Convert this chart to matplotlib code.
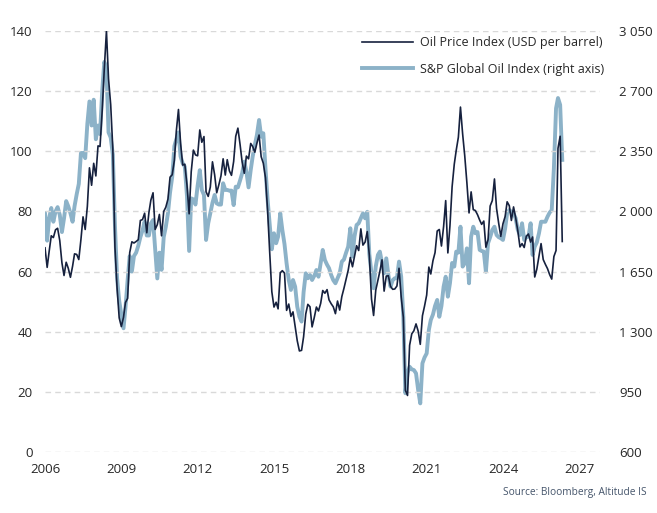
import matplotlib
matplotlib.use("Agg")
import matplotlib.pyplot as plt
import matplotlib.dates as mdates
from matplotlib.ticker import FuncFormatter
import pandas as pd

oil_price = [
    67.9, 61.4, 66.6, 71.9, 71.3, 73.9, 74.4, 70.3, 62.9, 58.7, 63.1, 61.1,   # 2006
    58.1, 61.8, 65.9, 65.7, 64.0, 70.7, 78.2, 74.0, 81.7, 94.5, 88.7, 96.0,   # 2007
    91.8, 101.8, 101.6, 113.5, 127.4, 140.0, 124.1, 115.5, 100.6, 68.1, 54.4, 44.6,
    41.7, 44.8, 49.7, 51.1, 66.3, 69.9, 69.5, 70.0, 70.6, 77.0, 77.3, 79.4,
    72.9, 79.7, 83.8, 86.2, 74.0, 75.6, 79.0, 71.9, 80.0, 81.4, 84.1, 91.4,
    92.2, 97.0, 106.7, 113.9, 102.7, 95.4, 95.7, 88.8, 79.2, 93.2, 100.4, 98.8,
    98.5, 107.1, 103.0, 104.9, 86.5, 85.0, 88.1, 96.5, 92.2, 86.2, 88.9, 91.8,
    97.5, 92.1, 97.2, 93.5, 92.0, 96.6, 105.0, 107.7, 102.3, 96.4, 92.7, 98.4,
    97.5, 102.6, 101.6, 99.7, 102.7, 105.4, 98.2, 96.0, 91.2, 80.5, 66.2, 53.3,
    48.2, 49.8, 47.6, 59.6, 60.3, 59.5, 47.1, 49.2, 45.1, 46.6, 41.7, 37.0,
    33.6, 33.8, 38.3, 45.9, 49.1, 48.3, 41.6, 44.7, 48.2, 46.9, 49.4, 53.7,
    52.8, 54.0, 50.6, 49.3, 48.3, 46.0, 50.2, 47.2, 51.7, 54.4, 57.4, 60.4,
    64.7, 61.6, 64.9, 68.6, 67.0, 74.2, 68.8, 69.8, 73.3, 65.3, 50.9, 45.4,
    53.8, 57.2, 60.1, 63.9, 53.5, 58.5, 58.6, 55.1, 54.1, 54.2, 55.2, 61.1,
    51.6, 44.8, 20.5, 18.8, 35.5, 39.3, 40.3, 42.6, 40.2, 35.8, 45.3, 48.5,
    52.2, 61.5, 59.2, 63.6, 66.3, 73.5, 74.0, 68.5, 75.0, 83.6, 66.2, 75.2,
    88.2, 95.7, 100.3, 104.7, 114.7, 105.8, 98.6, 89.6, 79.5, 86.5, 80.6, 80.3,
    78.9, 77.1, 75.7, 76.8, 68.1, 70.6, 81.8, 83.6, 90.8, 81.0, 76.0, 71.7,
    75.9, 78.3, 83.2, 81.9, 77.0, 81.5, 77.9, 73.6, 68.2, 69.3, 68.0, 71.7,
    72.5, 69.8, 71.5, 58.2, 60.8, 65.1, 69.3, 64.0, 62.4, 61.0, 59.0, 57.5,
    65.0, 67.0, 101.0, 105.0, 70.0,                                           # 2026
]

sp_oil_index = [
    1990, 1830, 1960, 2020, 1940, 2000, 2025, 1980, 1880, 1960, 2060, 2030,   # 2006
    1990, 1940, 2030, 2100, 2160, 2340, 2340, 2310, 2510, 2640, 2500, 2650,   # 2007
    2420, 2500, 2450, 2700, 2870, 2830, 2460, 2430, 2330, 1920, 1610, 1480,
    1400, 1320, 1440, 1600, 1740, 1650, 1740, 1760, 1800, 1850, 1890, 1940,
    1860, 1860, 1930, 1950, 1780, 1610, 1760, 1660, 1850, 1910, 1990, 2110,
    2200, 2380, 2420, 2460, 2320, 2280, 2260, 2090, 1770, 2076, 2070, 2040,
    2150, 2240, 2125, 2096, 1834, 1931, 1990, 2050, 2096, 2047, 2040, 2040,
    2164, 2125, 2125, 2121, 2121, 2037, 2144, 2140, 2180, 2222, 2290, 2231,
    2140, 2241, 2319, 2387, 2445, 2532, 2435, 2455, 2250, 2070, 1920, 1780,
    1873, 1815, 1853, 1989, 1892, 1810, 1698, 1601, 1543, 1601, 1562, 1446,
    1388, 1359, 1530, 1640, 1611, 1630, 1601, 1625, 1659, 1620, 1700, 1776,
    1717, 1690, 1670, 1630, 1600, 1582, 1611, 1640, 1708, 1720, 1760, 1795,
    1902, 1737, 1853, 1921, 1931, 1960, 1989, 1960, 1998, 1750, 1640, 1553,
    1679, 1747, 1766, 1700, 1640, 1727, 1630, 1562, 1600, 1611, 1611, 1708,
    1620, 1388, 942, 1060, 1096, 1081, 1077, 1058, 960, 883, 1116, 1150,
    1174, 1310, 1368, 1400, 1450, 1485, 1387, 1450, 1562, 1620, 1504, 1582,
    1700, 1679, 1766, 1760, 1911, 1679, 1698, 1785, 1582, 1853, 1911, 1873,
    1880, 1776, 1770, 1766, 1649, 1815, 1850, 1892, 1911, 1863, 1850, 1844,
    1834, 1900, 1990, 2008, 1998, 1989, 1960, 1892, 1863, 1931, 1834, 1853,
    1853, 1931, 1747, 1795, 1820, 1873, 1940, 1940, 1940, 1969, 1993, 2008,
    2250, 2600, 2660, 2620, 2300,                                             # 2026
]

dates = pd.date_range("2006-01-01", periods=len(oil_price), freq="MS")

left_ticks = [0, 20, 40, 60, 80, 100, 120, 140]
right_ticks = [600, 950, 1300, 1650, 2000, 2350, 2700, 3050]
year_ticks = [2006, 2009, 2012, 2015, 2018, 2021, 2024, 2027]

DARK = "#16213e"
LIGHT = "#8cb2c8"
TEXT = "#262626"

plt.rcParams["font.family"] = ["Open Sans", "DejaVu Sans"]

fig = plt.figure(figsize=(6.57, 5.13), dpi=100)
ax = fig.add_axes([45 / 657, 1 - 452 / 513, 555 / 657, 421 / 513])
ax2 = ax.twinx()

ax.plot(dates, oil_price, color=DARK, lw=1.2, zorder=3,
        label="Oil Price Index (USD per barrel)")
ax2.plot(dates, sp_oil_index, color=LIGHT, lw=2.8, zorder=2,
         label="S&P Global Oil Index (right axis)")

ax.set_zorder(ax2.get_zorder() + 1)
ax.patch.set_visible(False)

ax.set_ylim(0, 140)
ax2.set_ylim(600, 3050)
ax.set_yticks(left_ticks)
ax2.set_yticks(right_ticks)
ax2.yaxis.set_major_formatter(FuncFormatter(lambda v, p: f"{int(v):,}".replace(",", " ")))

ax.set_xlim(pd.Timestamp("2006-01-01"), pd.Timestamp("2027-10-25"))
ax.set_xticks([pd.Timestamp(f"{y}-01-01") for y in year_ticks])
ax.xaxis.set_major_formatter(mdates.DateFormatter("%Y"))

ax.grid(axis="y", color="#d9d9d9", linestyle=(0, (4, 3)), lw=1)
ax2.grid(False)

for a in (ax, ax2):
    for s in a.spines.values():
        s.set_visible(False)
    a.tick_params(length=0, labelsize=9.5, labelcolor=TEXT)
ax.tick_params(axis="y", pad=9)
ax.tick_params(axis="x", pad=8)
ax2.tick_params(axis="y", pad=14)

h1, l1 = ax.get_legend_handles_labels()
h2, l2 = ax2.get_legend_handles_labels()
ax.legend(h1 + h2, l1 + l2, loc="upper left", bbox_to_anchor=(362 / 657, 1 - 36 / 513),
          bbox_transform=fig.transFigure, frameon=False, fontsize=9,
          handlelength=4.1, handletextpad=0.5, labelspacing=1.1,
          borderpad=0, borderaxespad=0, labelcolor=TEXT)

fig.text(647 / 657, 1 - 492 / 513, "Source: Bloomberg, Altitude IS",
         ha="right", va="center", fontsize=7.3, color="#44546a")

fig.savefig("out.png", dpi=100)
